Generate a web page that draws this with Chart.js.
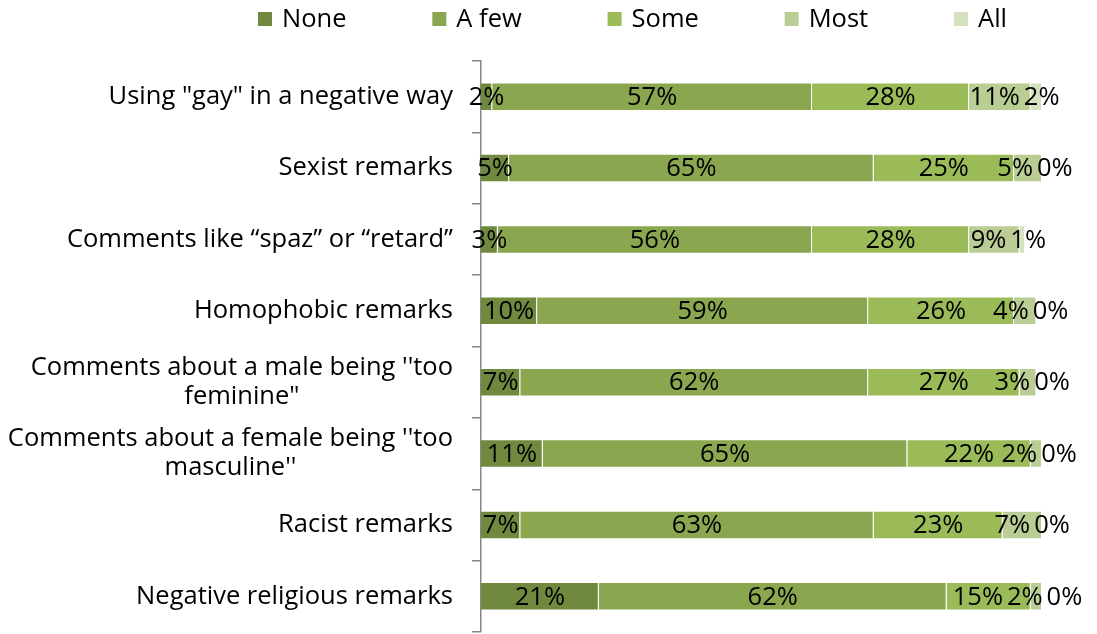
<!DOCTYPE html>
<html><head><meta charset="utf-8">
<script src="https://cdn.jsdelivr.net/npm/chart.js@4/dist/chart.umd.min.js"></script>
<style>html,body{margin:0;padding:0;background:#fff;overflow:hidden}</style>
</head><body>
<canvas id="c" width="1097" height="634"></canvas>
<script>
const categories = [
  'Using "gay" in a negative way',
  'Sexist remarks',
  'Comments like \u201Cspaz\u201D or \u201Cretard\u201D',
  'Homophobic remarks',
  ["Comments about a male being ''too", 'feminine"'],
  ["Comments about a female being ''too", "masculine''"],
  'Racist remarks',
  'Negative religious remarks'
];
const seriesNames = ['None', 'A few', 'Some', 'Most', 'All'];
const noneVals = [2, 5, 3, 10, 7, 11, 7, 21];
const aFewVals = [57, 65, 56, 59, 62, 65, 63, 62];
const someVals = [28, 25, 28, 26, 27, 22, 23, 15];
const mostVals = [11, 5, 9, 4, 3, 2, 7, 2];
const allVals  = [2, 0, 1, 0, 0, 0, 0, 0];
const seriesColors = ['#71893F', '#8AA64F', '#9BBB59', '#BACD95', '#D5E1BF'];

const FONT_SIZE = 25.5;
const FONT = FONT_SIZE + 'px "Open Sans", "Noto Sans", sans-serif';

const legendPlugin = {
  id: 'customLegend',
  afterDraw(chart) {
    const ctx = chart.ctx;
    ctx.save();
    ctx.font = FONT;
    ctx.textBaseline = 'middle';
    ctx.textAlign = 'left';
    const box = 14, boxGap = 10, cy = 19;
    const left = 258, right = 1007;
    const items = chart.data.datasets.map(d => ({ text: d.label, color: d.backgroundColor, w: ctx.measureText(d.label).width }));
    let used = 0;
    items.forEach(it => { used += box + boxGap + it.w; });
    const itemGap = (right - left - used) / (items.length - 1);
    let x = left;
    items.forEach(it => {
      ctx.fillStyle = it.color;
      ctx.fillRect(x, cy - box / 2, box, box);
      ctx.fillStyle = '#000';
      ctx.fillText(it.text, x + box + boxGap, cy + 1);
      x += box + boxGap + it.w + itemGap;
    });
    ctx.restore();
  }
};

const catLabelPlugin = {
  id: 'catLabels',
  afterDraw(chart) {
    const ctx = chart.ctx;
    const ys = chart.scales.y;
    const xr = chart.chartArea.left - 28;
    const lh = 29;
    ctx.save();
    ctx.font = FONT;
    ctx.fillStyle = '#000';
    ctx.textBaseline = 'middle';
    chart.data.labels.forEach((lab, i) => {
      const y = ys.getPixelForValue(i);
      const lines = Array.isArray(lab) ? lab : [lab];
      if (lines.length === 1) {
        ctx.textAlign = 'right';
        ctx.fillText(lines[0], xr, y);
      } else {
        const w = Math.max(...lines.map(l => ctx.measureText(l).width));
        ctx.textAlign = 'center';
        lines.forEach((l, j) => {
          ctx.fillText(l, xr - w / 2, y + (j - (lines.length - 1) / 2) * lh);
        });
      }
    });
    ctx.restore();
  }
};

const dataLabelPlugin = {
  id: 'dataLabels',
  afterDatasetsDraw(chart) {
    const ctx = chart.ctx;
    ctx.save();
    ctx.font = FONT;
    ctx.fillStyle = '#000';
    ctx.textBaseline = 'middle';
    ctx.textAlign = 'center';
    const nCat = chart.data.labels.length;
    const gap = 4;
    for (let i = 0; i < nCat; i++) {
      const labs = [];
      chart.data.datasets.forEach((ds, d) => {
        const el = chart.getDatasetMeta(d).data[i];
        const t = ds.data[i] + '%';
        const w = ctx.measureText(t).width;
        labs.push({ t, w, cx: (el.x + el.base) / 2, y: el.y });
      });
      for (let it = 0; it < 200; it++) {
        let moved = false;
        for (let k = 0; k < labs.length - 1; k++) {
          const a = labs[k], b = labs[k + 1];
          const ov = (a.cx + a.w / 2 + gap) - (b.cx - b.w / 2);
          if (ov > 0.01) { a.cx -= ov / 2; b.cx += ov / 2; moved = true; }
        }
        if (!moved) break;
      }
      labs.forEach(l => ctx.fillText(l.t, l.cx, l.y + 1));
    }
    ctx.restore();
  }
};

const valueArrays = [noneVals, aFewVals, someVals, mostVals, allVals];

function draw() {
  new Chart(document.getElementById('c'), {
    type: 'bar',
    data: {
      labels: categories,
      datasets: seriesNames.map((name, k) => ({
        label: name,
        data: valueArrays[k],
        backgroundColor: seriesColors[k],
        borderColor: 'rgba(255,255,255,0.55)',
        borderWidth: 1,
        borderSkipped: 'start',
        categoryPercentage: 1,
        barPercentage: 0.4
      }))
    },
    options: {
      indexAxis: 'y',
      responsive: false,
      devicePixelRatio: 1,
      animation: false,
      layout: { padding: { left: 472, right: 55, top: 61, bottom: 2 } },
      plugins: { legend: { display: false }, tooltip: { enabled: false } },
      scales: {
        x: { stacked: true, min: 0, max: 100, display: false },
        y: {
          stacked: true,
          ticks: { display: false },
          grid: { display: true, drawOnChartArea: false, drawTicks: true, tickLength: 9, color: '#868686', lineWidth: 1.5, offset: true },
          border: { display: true, color: '#868686', width: 1.5 }
        }
      }
    },
    plugins: [legendPlugin, catLabelPlugin, dataLabelPlugin]
  });
}
if (document.fonts && document.fonts.load) {
  document.fonts.load(FONT).then(draw, draw);
} else { draw(); }
</script>
</body></html>
